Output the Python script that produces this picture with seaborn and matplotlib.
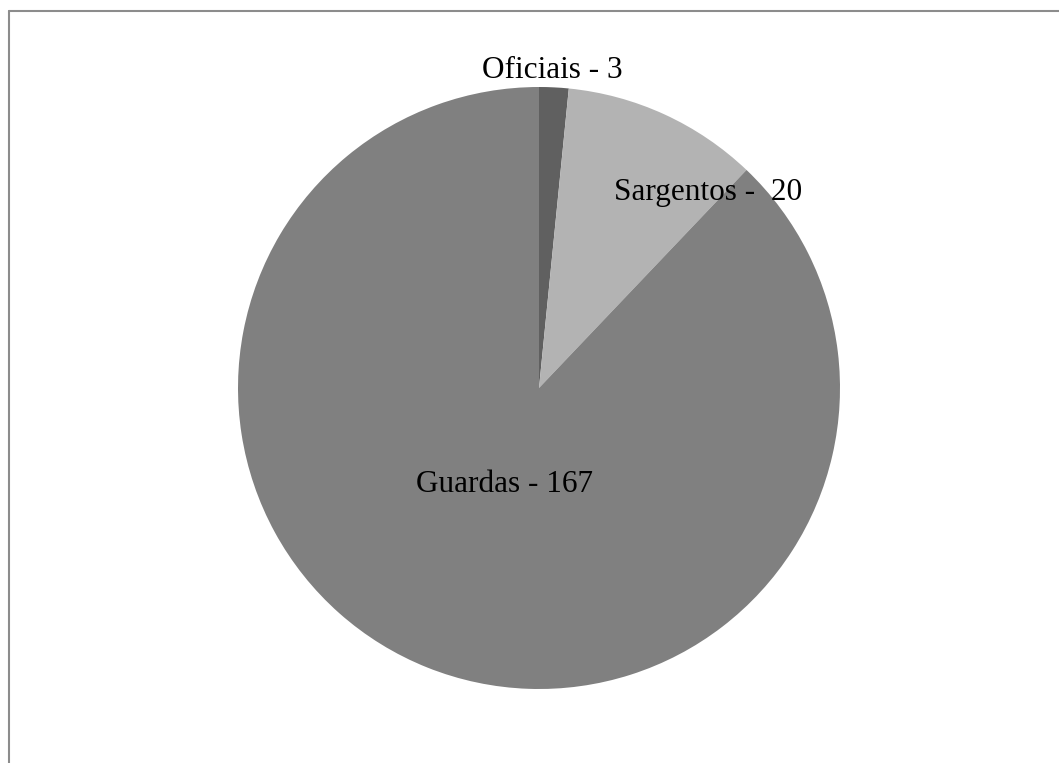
import matplotlib.pyplot as plt
import matplotlib.lines as mlines
import seaborn as sns

# Data
categories = ['Oficiais', 'Sargentos', 'Guardas']
values = [3, 20, 167]
label_texts = ['Oficiais - 3', 'Sargentos -  20', 'Guardas - 167']
colors = ['#606060', '#b3b3b3', '#808080']

sns.set_theme(style='white')
plt.rcParams['font.family'] = ['Liberation Serif', 'DejaVu Serif']

fig = plt.figure(figsize=(10.59, 7.63), dpi=100)
fig.patch.set_facecolor('white')

# square axes so the pie radius fits the reference
ax = fig.add_axes([238 / 1059, 74 / 763, 602 / 1059, 602 / 763])
wedges, _ = ax.pie(values, colors=colors, startangle=90, counterclock=False,
                   radius=1.0, wedgeprops={'linewidth': 0})
ax.set_xlim(-1, 1)
ax.set_ylim(-1, 1)
ax.set_aspect('equal')
ax.axis('off')

# label positions (data coords, pie radius = 1)
label_pos = [(0.045, 1.056), (0.561, 0.648), (-0.113, -0.319)]
for txt, (x, y) in zip(label_texts, label_pos):
    ax.text(x, y, txt, ha='center', va='center', fontsize=22.5, color='black',
            clip_on=False)

# frame lines at top and left, like the reference
fig.add_artist(mlines.Line2D([8.5 / 1059, 1], [1 - 10.5 / 763, 1 - 10.5 / 763],
                             color='#8c8c8c', linewidth=1.5))
fig.add_artist(mlines.Line2D([8.5 / 1059, 8.5 / 1059], [0, 1 - 10.5 / 763],
                             color='#8c8c8c', linewidth=1.5))

fig.savefig('out.png', dpi=100)
